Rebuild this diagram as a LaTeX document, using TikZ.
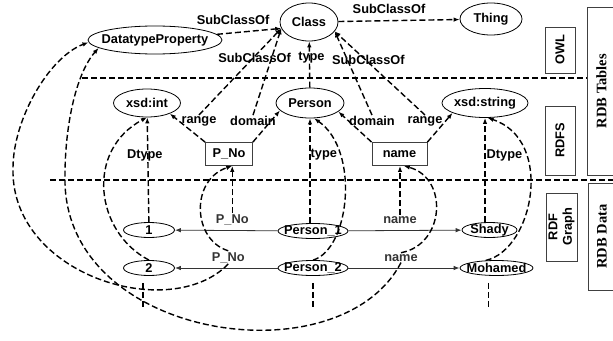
\documentclass[tikz,border=0pt]{standalone}
\usepackage{fontspec}
\setmainfont{Liberation Sans}
\newfontfamily\layerfont{Liberation Serif}
\usetikzlibrary{positioning,shapes.geometric,arrows.meta}

\begin{document}
\begin{tikzpicture}[x=1pt,y=-1pt,>={Latex[length=6pt,width=4.5pt]},
                    font={\fontsize{12.8}{14.5}\selectfont\bfseries},
                    basenode/.style={draw,inner sep=0pt,line width=.8pt},
                    term/.style={basenode,ellipse},
                    prop/.style={basenode,rectangle,draw=black!75},
                    datum/.style={basenode,ellipse,minimum height=15pt},
                    layer/.style={basenode,rectangle,rotate=90,draw=black!75,align=center},
                    rdb/.style={layer,font={\layerfont\fontsize{14.5}{16}\selectfont\bfseries}},
                    lbl/.style={inner sep=1pt},
                    onlink/.style={lbl,midway,anchor=base,yshift=7pt},
                    dep/.style={->,line width=1.4pt,dash pattern=on 6pt off 3pt},
                    rel/.style={->,line width=.8pt,black!80},
                    sep/.style={line width=1.4pt,dash pattern=on 6pt off 3pt}]
  \useasboundingbox (0,0) rectangle (613,340);
  % OWL
  \node[term,minimum width=134pt,minimum height=28pt,label=center:DatatypeProperty] (dtp) at (155,40) {};
  \node[term,minimum width=58pt,minimum height=38pt,label=center:Class] (cls) at (309,22) {};
  \node[term,minimum width=62pt,minimum height=32pt,label=center:Thing] (thing) at (491,19) {};
  % RDFS
  \node[term,minimum width=67pt,minimum height=28pt,label={center:{xsd:int}}] (xint) at (147,103) {};
  \node[term,minimum width=68pt,minimum height=30pt,label=center:Person] (person) at (310,103) {};
  \node[term,minimum width=86pt,minimum height=29pt,label={center:{xsd:string}}] (xstr) at (485,103) {};
  \node[prop,minimum width=47pt,minimum height=23pt] (pno) at (229,154) {P\_No};
  \node[prop,minimum width=55pt,minimum height=23pt] (nm) at (399.5,154) {name};
  \node[lbl] (rngL) at (199,121) {range};
  \node[lbl] (domL) at (253,121) {domain};
  \node[lbl] (domR) at (372,121) {domain};
  \node[lbl] (rngR) at (425,121) {range};
  % RDF graph
  \node[datum,minimum width=51pt,label=center:1] (d1) at (149,230) {};
  \node[datum,minimum width=51pt,label=center:2] (d2) at (149,268) {};
  \node[datum,minimum width=70pt,label={center:Person\_1}] (p1) at (313,231) {};
  \node[datum,minimum width=70pt,label={center:Person\_2}] (p2) at (313,268) {};
  \node[datum,minimum width=55pt,label=center:Shady] (shady) at (489.5,230) {};
  \node[datum,minimum width=73pt,label=center:Mohamed] (moh) at (496.5,268) {};
  % layers
  \node[layer,minimum width=46pt,minimum height=30pt] (owl) at (560,50) {OWL};
  \node[layer,minimum width=69pt,minimum height=30pt] (rdfs) at (560,140.5) {RDFS};
  \node[layer,minimum width=68pt,minimum height=31pt] (rdfg) at (561.5,227) {RDF\\Graph};
  \node[rdb,minimum width=168pt,minimum height=29pt] (rdbt) at (601.5,91) {RDB Tables};
  \node[rdb,minimum width=107pt,minimum height=28pt] (rdbd) at (602,236.5) {RDB Data};
  \coordinate (s1) at (82,78);
  \coordinate (s2) at (50,180);
  \draw[sep] (s1) -- (s1 -| rdbt.north);
  \draw[sep] (s2) -- (s2 -| rdbd.south);
  % schema links
  \draw[dep] (dtp) -- node[onlink,xshift=-16pt] {SubClassOf} (cls.193);
  \draw[dep] (cls) -- node[onlink,xshift=-10pt] {SubClassOf} (thing);
  \draw[dep] (person) -- node[lbl,pos=.64,xshift=2pt] {type} (cls);
  \draw[dep] (rngL.north) -- (cls.193);
  \draw[dep] (domL.north) -- node[lbl,pos=.66,xshift=-17pt] {SubClassOf} (cls.193);
  \draw[dep] (domR.north) -- node[lbl,pos=.66,xshift=21pt] {SubClassOf} (cls.340);
  \draw[dep] (rngR.north) -- (cls.340);
  \draw[dep] (pno.north west) -- (xint.-25);
  \draw[dep] (pno.north east) -- (person.194);
  \draw[dep] (nm.north west) -- (person.-17);
  \draw[dep] (nm.north east) -- (xstr.197);
  % data links
  \draw[rel] (p1) -- node[onlink,xshift=6pt] (pnoA) {P\_No} (d1);
  \draw[rel] (p1) -- node[onlink,xshift=-5pt] (nmA) {name} (shady);
  \draw[rel] (p2) -- node[onlink,xshift=2pt] (pnoB) {P\_No} (d2);
  \draw[rel] (p2) -- node[onlink,xshift=-3pt] (nmB) {name} (moh);
  \draw[dep] (d1) -- node[lbl,pos=.64,xshift=-3pt] {Dtype} (xint);
  \draw[dep] (shady.north -| xstr) -- node[lbl,pos=.64,anchor=west] {Dtype} (xstr);
  \draw[dep] (p1.north -| person) -- node[lbl,pos=.65,anchor=west,xshift=-1pt] {type} (person);
  \draw[dep] (pnoA) -- (pno.south -| pnoA);
  \draw[dep] (nmA) -- (nm.south -| nmA);
  \draw[dep] (pnoB.north) .. controls +(-36,-11) and +(-42,14) .. (pno.-75);
  \draw[dep] (pnoB.south) .. controls +(-58,60) and +(-3,107) .. (13,168) .. controls +(0,-48) and +(-40,15) .. (dtp.182);
  \draw[dep] (nmB.south) .. controls +(-61,118) and +(-5,165) .. (65,175) .. controls +(0,-45) and +(-24,27) .. (dtp.188);
  \draw[dep] (nmB.north) .. controls +(44,-8) and +(45,12) .. (nm.-70);
  \draw[dep] (p2.north) .. controls +(37,-11) and +(46,32) .. (person.-75);
  \draw[dep] (moh.145) .. controls +(48,-11) and +(67,22) .. (xstr.-80);
  \draw[dep] (d2.north) .. controls +(-54,-28) and +(-62,33) .. (xint.south);
  % more rows
  \coordinate[below=7pt of d2.south,xshift=-6pt] (d2s);
  \coordinate[below=7pt of p2.south] (p2s);
  \coordinate[below=7pt of moh.south,xshift=-8pt] (mohs);
  \coordinate[below=24pt of d2s] (d2e);
  \coordinate[below=24pt of p2s] (p2e);
  \coordinate[below=24pt of mohs] (mohe);
  \draw[sep] (d2s) -- (d2e);
  \draw[sep] (p2s) -- (p2e);
  \draw[sep] (mohs) -- (mohe);
\end{tikzpicture}
\end{document}
